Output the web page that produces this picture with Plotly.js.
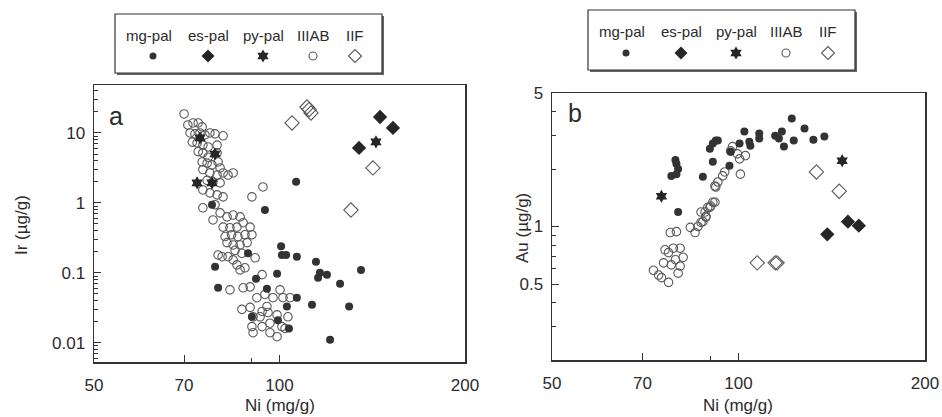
<!DOCTYPE html>
<html><head><meta charset="utf-8">
<script src="https://cdn.plot.ly/plotly-3.0.1.min.js"></script>
<style>body{margin:0;background:#fff}#g{width:942px;height:417px}</style>
</head><body><div id="g"></div>
<script>
// ---- Panel a: Ir vs Ni ----
const mgA_ni = [106.4,77.7,94.7,100.6,100.9,102.5,106.7,78.6,114.6,88.9,99.1,116.3,119.4,115.5,135.6,125.4,91.6,79.5,95.4,106.7,102.8,112.9,129.7,90.2,99.4,103.6,120.8];
const mgA_ir = [2.0,0.94,0.79,0.24,0.18,0.18,0.17,0.122,0.144,0.19,0.097,0.10,0.094,0.085,0.11,0.070,0.082,0.061,0.059,0.044,0.033,0.035,0.033,0.0235,0.021,0.016,0.011];
const esA_ni = [145.6,152.8,134.6];
const esA_ir = [16.9,11.8,6.1];
const pyA_ni = [143.4,73.5,74.3,78.6,77.7];
const pyA_ir = [7.45,1.93,8.5,5.0,1.93];
const iiiabA_ni = [70,71,72.4,73.8,74.9,71.6,72.9,74.3,75.7,77.1,78.6,81,72.2,73.5,75.1,76.6,79.2,73.8,75.1,76.6,79.2,74.9,76.3,77.7,79.5,80.1,75.1,77.1,79.2,81,82.5,84.1,76.3,78,80.1,75.1,77.1,79.2,81,75.1,78.6,78,80.1,82.2,84.1,86.3,81,83.1,85.3,87.3,89.6,81.6,83.6,85.6,87.9,90.2,82.2,84.1,86.3,88.6,84.7,86.9,82.5,79.5,80.7,84.1,85.3,86.3,87.9,91.3,94,90.2,83.1,87.3,89.6,93.7,91.9,94.7,97.6,100.2,101.3,104,86.9,89.6,93.7,95.4,90.6,93,95.8,99.1,103.2,90.2,93.7,96.5,100.9,90.6,96.5,99.1,102.1];
const iiiabA_ir = [18.7,13,13.9,13.9,12.2,10,9.7,10,9.4,10,9.7,9.1,7.4,7.2,6.7,6.3,6.7,5.4,5.2,4.5,5.2,3.85,3.7,3.5,3.85,3.16,3.0,2.68,2.5,2.68,2.5,2.68,2.1,2.0,1.93,1.53,1.39,1.3,1.22,0.85,0.94,0.57,0.72,0.63,0.67,0.63,0.45,0.44,0.45,0.52,0.45,0.33,0.35,0.33,0.35,0.35,0.27,0.25,0.25,0.27,0.21,0.19,0.17,0.18,0.17,0.153,0.13,0.11,0.118,0.164,1.69,1.22,0.057,0.061,0.063,0.094,0.044,0.049,0.044,0.057,0.044,0.044,0.030,0.032,0.028,0.033,0.0235,0.0235,0.027,0.025,0.0235,0.017,0.017,0.019,0.017,0.0139,0.0139,0.0122,0.016];
const iifA_ni = [104.8,110.8,112.5,111.7,141.8,130.6];
const iifA_ir = [13.9,23.5,19.3,21.6,3.16,0.79];

// ---- Panel b: Au vs Ni ----
const mgB_ni = [79.9,79.1,79.4,79.9,79.4,77.9,87.6,90.9,89.9,90.9,91.9,92.6,97.1,96.7,100.4,104.1,104.5,102.2,108.0,108.0,114.6,117.5,116.2,118.4,121.9,122.8,127.8,132.1,137.6];
const mgB_au = [1.19,2.23,2.13,2.0,1.88,1.84,1.82,2.18,2.55,2.72,2.82,2.82,2.46,2.08,2.72,2.78,2.65,3.14,3.07,2.89,2.99,3.14,2.89,2.62,3.68,2.82,3.26,2.85,2.96];
const esB_ni = [150.2,156.4,139.1];
const esB_au = [1.06,1.01,0.91];
const pyB_ni = [75.1,147.0];
const pyB_au = [1.44,2.21];
const iiiabB_ni = [72.9,75.1,77.1,75.7,77.1,77.9,79.1,80.5,81.4,80.5,78.5,76.1,79.9,77.6,79.4,83.6,85.1,86.0,87.6,88.6,87.0,89.2,90.2,91.6,91.6,92.6,97.8,97.1,99.6,102.6,100.4,95.0,94.3,91.9,100.7,90.9,89.9,88.3,88.6,87.0,74.3];
const iiiabB_au = [0.59,0.54,0.51,0.645,0.73,0.63,0.67,0.62,0.69,0.77,0.77,0.755,0.57,0.93,0.94,0.99,0.93,1.0,1.06,1.13,1.19,1.26,1.28,1.34,1.63,1.71,2.62,2.49,2.40,2.35,2.26,1.93,1.84,1.61,1.88,1.34,1.26,1.19,1.12,1.05,0.557];
const iifB_ni = [133.6,145.4,107.2,114.6,115.4];
const iifB_au = [1.93,1.53,0.645,0.645,0.645];

// ---- labels ----
const groups = ['mg-pal','es-pal','py-pal','IIIAB','IIF'];
const xTickVals = [50,70,100,200];
const xTickText = ['50','70','100','200'];
const yTickA = [0.01,0.1,1,10];
const yTickAText = ['0.01','0.1','1','10'];
const yTickB = [0.5,1,5];
const yTickBText = ['0.5','1','5'];
const xTitle = 'Ni (mg/g)';
const yTitleA = 'Ir (µg/g)';
const yTitleB = 'Au (µg/g)';

const W = 942, H = 417;
const px = v => v / W, py = v => 1 - v / H;
const FONT = 'Liberation Sans, Arial, sans-serif';
const INK = '#2b2b2b';

const styles = [
  {symbol:'circle', size:8, color:'#333', line:{width:0}},
  {symbol:'diamond', size:11, color:'#262626', line:{width:0}},
  {symbol:'hexagram', size:10, color:'#262626', line:{width:0}},
  {symbol:'circle-open', size:8.5, color:'#5a5a5a', line:{width:1.1, color:'#5a5a5a'}},
  {symbol:'diamond-open', size:11, color:'#5a5a5a', line:{width:1.1, color:'#5a5a5a'}}
];
const legStyles = [
  {symbol:'circle', size:7, color:'#333', line:{width:0}},
  {symbol:'diamond', size:10, color:'#262626', line:{width:0}},
  {symbol:'hexagram', size:10, color:'#262626', line:{width:0}},
  {symbol:'circle-open', size:8, color:'#5a5a5a', line:{width:1.1, color:'#5a5a5a'}},
  {symbol:'diamond-open', size:10, color:'#5a5a5a', line:{width:1.1, color:'#5a5a5a'}}
];

function tr(x, y, k, xa, ya, st) {
  return {x, y, type:'scatter', mode:'markers', xaxis:xa, yaxis:ya, name:groups[k],
          marker:(st || styles)[k], showlegend:false, hoverinfo:'skip', cliponaxis:false};
}

const traces = [
  tr(iiiabA_ni, iiiabA_ir, 3, 'x', 'y'),
  tr(iifA_ni, iifA_ir, 4, 'x', 'y'),
  tr(mgA_ni, mgA_ir, 0, 'x', 'y'),
  tr(esA_ni, esA_ir, 1, 'x', 'y'),
  tr(pyA_ni, pyA_ir, 2, 'x', 'y'),
  tr(iiiabB_ni, iiiabB_au, 3, 'x2', 'y2'),
  tr(iifB_ni, iifB_au, 4, 'x2', 'y2'),
  tr(mgB_ni, mgB_au, 0, 'x2', 'y2'),
  tr(esB_ni, esB_au, 1, 'x2', 'y2'),
  tr(pyB_ni, pyB_au, 2, 'x2', 'y2')
];

// legend boxes: symbols on an overlay axis measured in pixels
const legCols = [149, 208, 263, 313, 355];
const legends = [{left:115, top:14, right:382, bottom:73, dx:0, textY:35, markY:56},
                 {left:588, top:10, right:855, bottom:70, dx:473, textY:32, markY:53}];
const annotations = [];
const shapes = [];
legends.forEach(L => {
  groups.forEach((g, k) => {
    traces.push(tr([legCols[k] + L.dx + (k === 0 ? 4 : 0)], [L.markY], k, 'x3', 'y3', legStyles));
    annotations.push({xref:'paper', yref:'paper', x:px(legCols[k] + L.dx), y:py(L.textY),
      text:g, showarrow:false, xanchor:'center', yanchor:'middle',
      font:{family:FONT, size:15, color:INK}});
  });
  shapes.push({type:'rect', xref:'paper', yref:'paper', x0:px(L.left+2), x1:px(L.right+2),
    y0:py(L.bottom+2), y1:py(L.top+2), fillcolor:'#666', line:{width:0}, layer:'below'});
  shapes.push({type:'rect', xref:'paper', yref:'paper', x0:px(L.left), x1:px(L.right),
    y0:py(L.bottom), y1:py(L.top), fillcolor:'#fff', line:{width:1.2, color:'#333'}, layer:'below'});
});

function note(x, y, text, size, angle) {
  annotations.push({xref:'paper', yref:'paper', x:px(x), y:py(y), text, showarrow:false,
    xanchor:'center', yanchor:'middle', textangle:angle || 0,
    font:{family:FONT, size, color:INK}});
}
note(116, 116, 'a', 25);
note(575, 113, 'b', 25);
note(280, 405, xTitle, 17);
note(738, 405, xTitle, 17);
note(21, 225, yTitleA, 17, -90);
note(522, 228, yTitleB, 17, -90);

function minorVals(lo, hi) {
  const out = [];
  for (let d = lo; d <= hi; d++) for (let m = 2; m <= 9; m++) out.push(m * Math.pow(10, d));
  return out;
}

const axFont = {family:FONT, size:17, color:INK};
const xCommon = {type:'log', range:[Math.log10(50), Math.log10(200)], tickmode:'array',
  tickvals:xTickVals, ticktext:xTickText, ticks:'inside', ticklen:7, tickwidth:1, tickcolor:'#333',
  showline:true, linecolor:'#333', linewidth:1.5, mirror:true, showgrid:false, zeroline:false,
  tickfont:axFont, ticklabelstandoff:7, ticklabeloverflow:'allow',
  minor:{tickmode:'array', tickvals:[90], ticks:'inside', ticklen:4, tickcolor:'#333', showgrid:false}};

const layout = {
  width:W, height:H, margin:{l:0, r:0, t:0, b:0},
  paper_bgcolor:'#fff', plot_bgcolor:'rgba(0,0,0,0)', showlegend:false,
  xaxis:Object.assign({}, xCommon, {domain:[px(94), px(465)], anchor:'y'}),
  yaxis:{type:'log', domain:[py(362), py(85)], anchor:'x',
    range:[Math.log10(0.0053), 1.6857], tickmode:'array', tickvals:yTickA, ticktext:yTickAText,
    ticks:'inside', ticklen:7, tickcolor:'#333', showline:true, linecolor:'#333', linewidth:1.5,
    mirror:true, showgrid:false, zeroline:false, tickfont:axFont, ticklabelstandoff:4,
    minor:{tickmode:'array', tickvals:minorVals(-3, 1), ticks:'inside', ticklen:4, tickcolor:'#333', showgrid:false}},
  xaxis2:Object.assign({}, xCommon, {domain:[px(552), px(925)], anchor:'y2'}),
  yaxis2:{type:'log', domain:[py(360), py(93)], anchor:'x2',
    range:[Math.log10(0.2), Math.log10(5)], tickmode:'array', tickvals:yTickB, ticktext:yTickBText,
    ticks:'inside', ticklen:7, tickcolor:'#333', showline:true, linecolor:'#333', linewidth:1.5,
    mirror:true, showgrid:false, zeroline:false, tickfont:axFont, ticklabelstandoff:4,
    ticklabeloverflow:'allow',
    minor:{tickmode:'array', tickvals:minorVals(-1, 0), ticks:'inside', ticklen:4, tickcolor:'#333', showgrid:false}},
  xaxis3:{domain:[0,1], range:[0,W], visible:false, fixedrange:true, anchor:'y3'},
  yaxis3:{domain:[0,1], range:[H,0], visible:false, fixedrange:true, anchor:'x3'},
  annotations, shapes
};

Plotly.newPlot('g', traces, layout, {displayModeBar:false, staticPlot:true});
</script></body></html>
